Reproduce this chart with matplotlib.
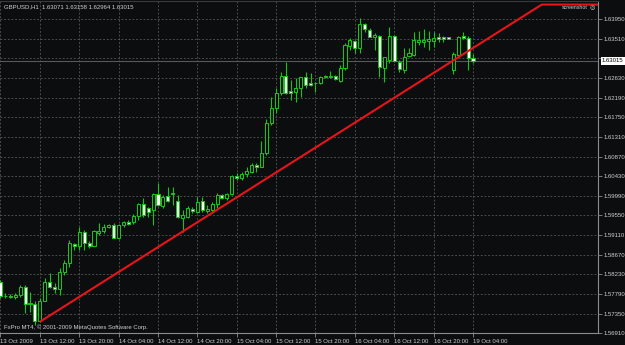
"""GBPUSD H1 candlestick chart in the style of a MetaTrader 4 screenshot."""

import matplotlib

matplotlib.use("Agg")
import matplotlib.pyplot as plt
import numpy as np

plt.rcParams["font.family"] = ["Liberation Sans", "DejaVu Sans"]

# hourly bars, 13 Oct 2009 04:00 .. 19 Oct 2009 04:00
opens = [
    1.58060, 1.57747, 1.57758, 1.57724, 1.57769, 1.57948, 1.57567, 1.57579, 1.57193, 1.57646,
    1.58060, 1.57959, 1.57915, 1.58284, 1.58486, 1.58911, 1.58878, 1.59180, 1.58927, 1.58878,
    1.59165, 1.59202, 1.59299, 1.59337, 1.59052, 1.59337, 1.59404, 1.59397, 1.59545, 1.59801,
    1.59718, 1.59673, 1.60031, 1.59763, 1.59987, 1.60031, 1.59881, 1.59487, 1.59516, 1.59702,
    1.59636, 1.59875, 1.59658, 1.59673, 1.59807, 1.60009, 1.59935, 1.60031, 1.60435, 1.60383,
    1.60479, 1.60531, 1.60681, 1.60643, 1.60942, 1.61614, 1.61950, 1.62286, 1.62673, 1.62337,
    1.62322, 1.62398, 1.62644, 1.62523, 1.62516, 1.62510, 1.62644, 1.62644, 1.62673, 1.62568,
    1.62846, 1.63352, 1.63457, 1.63294, 1.63838, 1.63703, 1.63540, 1.63569, 1.62846, 1.63031,
    1.63569, 1.62993, 1.62808, 1.63121, 1.63143, 1.63441, 1.63435, 1.63464, 1.63464, 1.63540,
    1.63540, 1.63540, 1.62819, 1.63143, 1.63569, 1.63517, 1.63071,
]
highs = [
    1.58105, 1.57814, 1.57791, 1.57814, 1.57993, 1.57993, 1.57836, 1.57635, 1.57702, 1.58150,
    1.58262, 1.58038, 1.58374, 1.58553, 1.59001, 1.58934, 1.59299, 1.59225, 1.58979, 1.59225,
    1.59375, 1.59353, 1.59353, 1.59375, 1.59359, 1.59427, 1.59449, 1.59577, 1.59823, 1.59935,
    1.59747, 1.60061, 1.60271, 1.60009, 1.60195, 1.60195, 1.60009, 1.59673, 1.59763, 1.59747,
    1.59971, 1.59971, 1.59785, 1.59859, 1.60047, 1.60031, 1.60061, 1.60457, 1.60495, 1.60531,
    1.60643, 1.60719, 1.60719, 1.61218, 1.61704, 1.62210, 1.62398, 1.62770, 1.62993, 1.62584,
    1.62622, 1.62658, 1.62770, 1.62734, 1.62546, 1.62673, 1.62696, 1.62792, 1.62696, 1.62920,
    1.63405, 1.63517, 1.63479, 1.63965, 1.63867, 1.63741, 1.63643, 1.63591, 1.63105, 1.63764,
    1.63591, 1.63031, 1.63294, 1.63294, 1.63665, 1.63688, 1.63719, 1.63688, 1.63665, 1.63629,
    1.63569, 1.63553, 1.63217, 1.63569, 1.63658, 1.63569, 1.63158,
]
lows = [
    1.57702, 1.57702, 1.57702, 1.57679, 1.57724, 1.57366, 1.57388, 1.57097, 1.57170, 1.57635,
    1.57919, 1.57814, 1.57769, 1.58217, 1.58403, 1.58777, 1.58777, 1.58777, 1.58822, 1.58863,
    1.59113, 1.59150, 1.59263, 1.59039, 1.59023, 1.59299, 1.59337, 1.59353, 1.59449, 1.59523,
    1.59523, 1.59337, 1.59763, 1.59711, 1.59859, 1.59785, 1.59487, 1.59187, 1.59487, 1.59599,
    1.59599, 1.59636, 1.59613, 1.59636, 1.59711, 1.59919, 1.59897, 1.60009, 1.60345, 1.60345,
    1.60419, 1.60495, 1.60531, 1.60629, 1.60904, 1.61576, 1.61851, 1.62248, 1.62270, 1.62136,
    1.62098, 1.62196, 1.62398, 1.62449, 1.62322, 1.62494, 1.62622, 1.62628, 1.62584, 1.62539,
    1.62808, 1.63255, 1.63182, 1.63195, 1.63665, 1.63540, 1.63255, 1.62658, 1.62546, 1.62958,
    1.62993, 1.62770, 1.62734, 1.63092, 1.63121, 1.63367, 1.63329, 1.63255, 1.63329, 1.63441,
    1.63441, 1.63495, 1.62718, 1.63121, 1.63495, 1.62808, 1.62964,
]
closes = [
    1.57747, 1.57758, 1.57735, 1.57769, 1.57948, 1.57567, 1.57590, 1.57193, 1.57641, 1.58060,
    1.57955, 1.57903, 1.58284, 1.58486, 1.58934, 1.58867, 1.59187, 1.58927, 1.58874, 1.59202,
    1.59209, 1.59299, 1.59337, 1.59052, 1.59337, 1.59404, 1.59366, 1.59545, 1.59801, 1.59561,
    1.59636, 1.60031, 1.59785, 1.59971, 1.59881, 1.60053, 1.59510, 1.59561, 1.59718, 1.59644,
    1.59859, 1.59673, 1.59696, 1.59807, 1.60009, 1.59935, 1.60031, 1.60435, 1.60383, 1.60479,
    1.60553, 1.60681, 1.60643, 1.60942, 1.61614, 1.61950, 1.62286, 1.62673, 1.62286, 1.62286,
    1.62398, 1.62644, 1.62472, 1.62472, 1.62528, 1.62658, 1.62673, 1.62673, 1.62599, 1.62846,
    1.63367, 1.63479, 1.63294, 1.63838, 1.63719, 1.63553, 1.63591, 1.62881, 1.63092, 1.63569,
    1.63016, 1.62830, 1.63105, 1.63182, 1.63479, 1.63479, 1.63479, 1.63495, 1.63517, 1.63502,
    1.63502, 1.63508, 1.63166, 1.63540, 1.63517, 1.63071, 1.63015,
]

time_ticks = [0, 8, 16, 24, 32, 40, 48, 56, 64, 72, 80, 88, 96]
time_labels = [
    "13 Oct 2009", "13 Oct 12:00", "13 Oct 20:00", "14 Oct 04:00", "14 Oct 12:00",
    "14 Oct 20:00", "15 Oct 04:00", "15 Oct 12:00", "15 Oct 20:00", "16 Oct 04:00",
    "16 Oct 12:00", "16 Oct 20:00", "19 Oct 04:00",
]
price_ticks = [1.56910 + 0.0044 * k for k in range(17)]

# trend line drawn from the 13 Oct 12:00 low
trend_bars = [8, 88]
trend_prices = [1.5717, 1.62743]

symbol_text = "GBPUSD,H1  1.63071 1.63158 1.62964 1.63015"
current_price = 1.63015

BACKGROUND = "#0c0d0f"
CANDLE_GREEN = "#18c418"
TEXT_COLOR = "#d0d0d0"
GRID_COLOR = "#575757"
AXIS_COLOR = "#8c8c8c"
FONT_SIZE = 4.3

figure = plt.figure(figsize=(6.25, 3.45), dpi=100)
figure.patch.set_facecolor(BACKGROUND)
axis = figure.add_axes([0.0, 11.6 / 345, 598 / 625, 332.4 / 345])
axis.set_facecolor(BACKGROUND)

x_max = 121.4
y_top = 1.64353
axis.set_xlim(-0.1, x_max)
axis.set_ylim(1.56910, y_top)

bars = np.arange(len(opens))
opens_arr = np.array(opens)
closes_arr = np.array(closes)

# wicks
axis.vlines(bars, lows, highs, color=CANDLE_GREEN, linewidth=0.8, zorder=3)

# bodies: bull candles hollow (black), bear candles white
body_bottom = np.minimum(opens_arr, closes_arr)
body_height = np.maximum(np.abs(closes_arr - opens_arr), 0.00005)
body_fill = [BACKGROUND if c >= o else "#ffffff" for o, c in zip(opens, closes)]
axis.bar(
    bars,
    body_height,
    bottom=body_bottom,
    width=0.62,
    color=body_fill,
    edgecolor=CANDLE_GREEN,
    linewidth=0.75,
    zorder=4,
)

# current bid line
axis.axhline(current_price, color="#55585b", linewidth=0.8, zorder=2)

# trend line ray, clipped at the top of the window
slope = (trend_prices[1] - trend_prices[0]) / (trend_bars[1] - trend_bars[0])
ray_x = np.linspace(trend_bars[0], x_max, 400)
ray_y = np.minimum(trend_prices[0] + slope * (ray_x - trend_bars[0]), y_top - 0.0008)
axis.plot(ray_x, ray_y, color="#e8141a", linewidth=1.5, zorder=5, solid_capstyle="butt")

# grid and axes
axis.grid(True, color=GRID_COLOR, linestyle=(0, (2.2, 2.2)), linewidth=0.6)
axis.set_axisbelow(True)
axis.set_xticks(time_ticks)
axis.set_xticklabels(time_labels)
for label in axis.get_xticklabels():
    label.set_horizontalalignment("left")
axis.set_yticks(price_ticks)
# the level right under the bid box is covered by it in the terminal
axis.set_yticklabels(["" if abs(p - current_price) < 0.001 else f"{p:.5f}" for p in price_ticks])
axis.yaxis.tick_right()
axis.tick_params(axis="both", colors=AXIS_COLOR, labelcolor=TEXT_COLOR, labelsize=FONT_SIZE,
                 length=3, width=0.6, pad=1.2, direction="out")

for side, spine in axis.spines.items():
    spine.set_color(AXIS_COLOR)
    spine.set_linewidth(0.8)
axis.spines["left"].set_visible(False)
axis.spines["top"].set_color("#3a3a3a")

# current price box on the price scale
axis.text(1.0 + 4 / 598, current_price, f"{current_price:.5f}", transform=axis.get_yaxis_transform(),
          ha="left", va="center", fontsize=FONT_SIZE, color="#000000", clip_on=False, zorder=10,
          bbox=dict(boxstyle="square,pad=0.25", facecolor="#ffffff", edgecolor="none"))

figure.text(4 / 625, 1 - 7 / 345, symbol_text, ha="left", va="center", fontsize=FONT_SIZE, color=TEXT_COLOR)
figure.text(4 / 625, 1 - 327 / 345, "FxPro MT4, © 2001-2009 MetaQuotes Software Corp.",
            ha="left", va="center", fontsize=FONT_SIZE, color=TEXT_COLOR)
figure.text(562 / 625, 1 - 7.5 / 345, "screenshot", ha="left", va="center", fontsize=FONT_SIZE - 0.5,
            color=TEXT_COLOR)
figure.text(590 / 625, 1 - 7.5 / 345, "◎", ha="left", va="center", fontsize=FONT_SIZE, color=TEXT_COLOR,
            family=["DejaVu Sans"])

figure.savefig("out.png", dpi=100, facecolor=BACKGROUND)
plt.close(figure)
